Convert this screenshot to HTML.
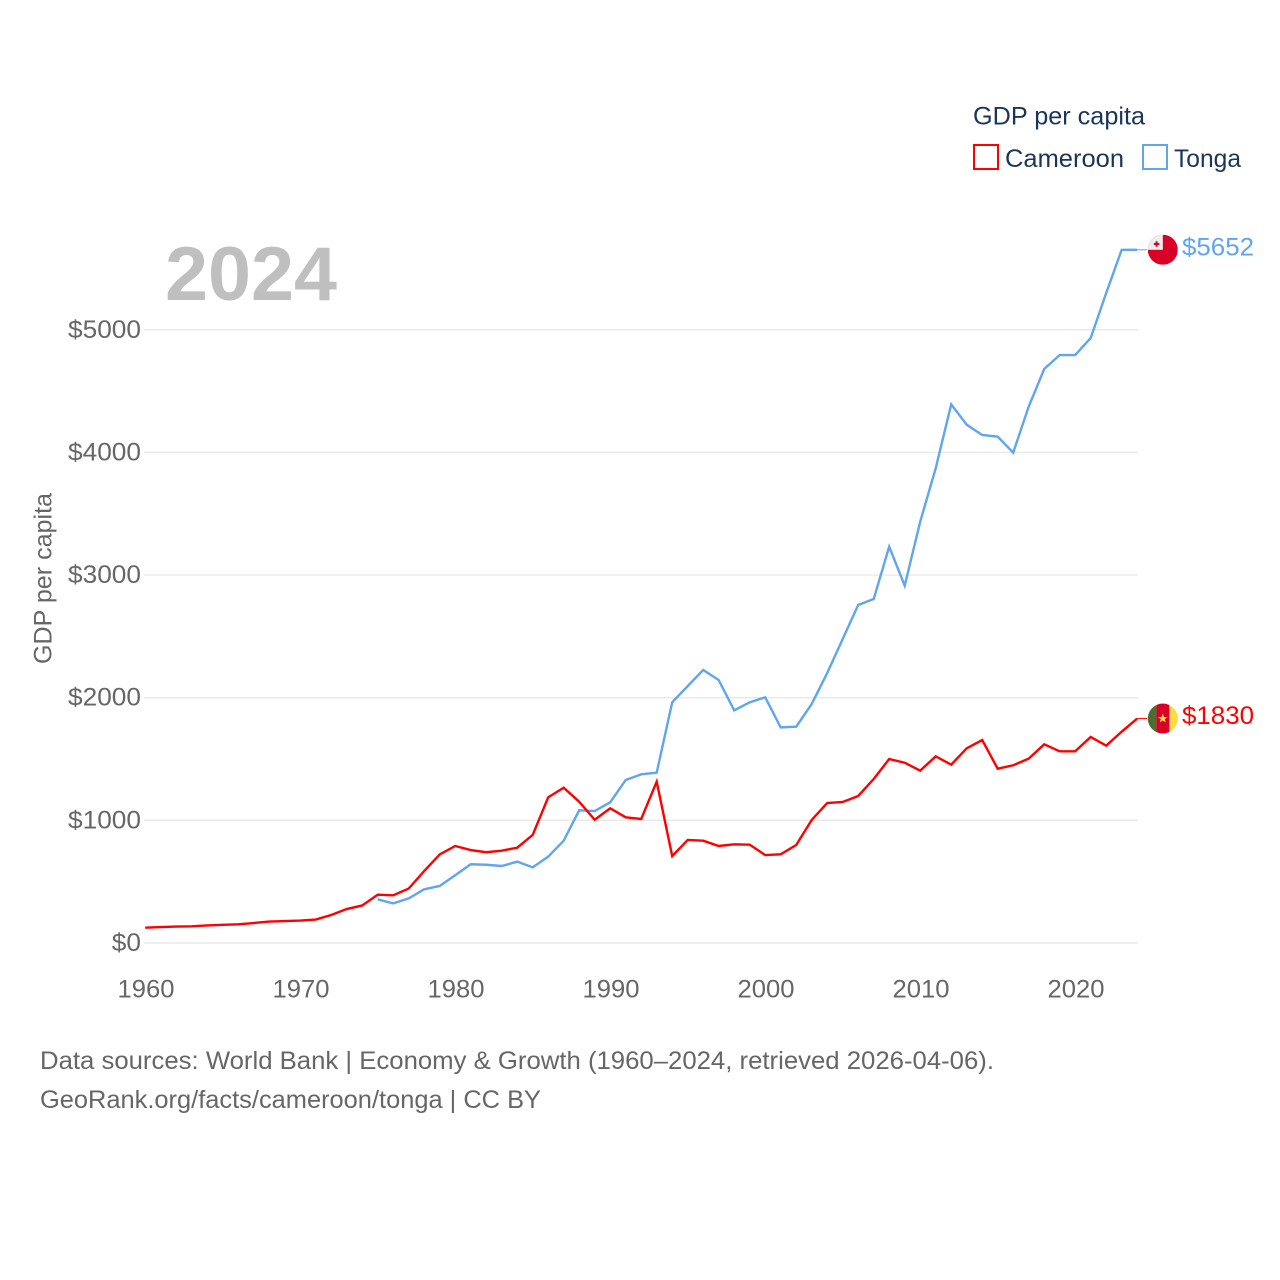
<!DOCTYPE html>
<html lang="en">
<head>
<meta charset="utf-8">
<title>GDP per capita: Cameroon and Tonga</title>
<style>
html,body{margin:0;padding:0;background:#fff}
svg{display:block}
text{font-family:"Liberation Sans",sans-serif}
</style>
</head>
<body>
<svg id="chart" xmlns="http://www.w3.org/2000/svg" width="1280" height="1280" viewBox="0 0 1280 1280">
  <rect width="1280" height="1280" fill="#fff"/>
  <g id="grid"></g>
  <g id="y-axis"></g>
  <g id="x-axis"></g>
  <text transform="translate(51.5,578.5) rotate(-90)" text-anchor="middle" font-size="25" fill="#666" textLength="171" lengthAdjust="spacingAndGlyphs">GDP per capita</text>
  <text x="165" y="300" font-size="76" font-weight="700" fill="#bfbfbf" textLength="172" lengthAdjust="spacingAndGlyphs">2024</text>
  <g id="series"></g>
  <defs>
    <clipPath id="flag-clip-tonga"><circle cx="0" cy="0" r="15"/></clipPath>
    <clipPath id="flag-clip-cameroon"><circle cx="0" cy="0" r="15"/></clipPath>
  </defs>
  <g id="flag-tonga" clip-path="url(#flag-clip-tonga)">
    <rect x="-15" y="-15" width="30" height="30" fill="#d80027"/>
    <rect x="-15" y="-15" width="15" height="15" fill="#eeeeee"/>
    <rect x="-7.2" y="-8.6" width="2" height="5.6" fill="#d80027"/>
    <rect x="-9" y="-6.8" width="5.6" height="2" fill="#d80027"/>
  </g>
  <g id="flag-cameroon" clip-path="url(#flag-clip-cameroon)">
    <rect x="-15" y="-15" width="8.6" height="30" fill="#496e2d"/>
    <rect x="-6.4" y="-15" width="13" height="30" fill="#d80027"/>
    <rect x="6.6" y="-15" width="8.4" height="30" fill="#ffda44"/>
    <polygon points="0,-5 1.3,-1.6 4.8,-1.6 2,0.6 3,4 0,2 -3,4 -2,0.6 -4.8,-1.6 -1.3,-1.6" fill="#ffda44"/>
  </g>
  <g id="end-labels"></g>
  <g>
    <text x="973" y="124.5" font-size="25" fill="#1a3557" textLength="172" lengthAdjust="spacingAndGlyphs">GDP per capita</text>
    <rect x="974" y="145" width="24" height="24" fill="#fff" stroke="#ff0000" stroke-width="2"/>
    <text x="1005" y="167" font-size="25" fill="#1a3557" textLength="119" lengthAdjust="spacingAndGlyphs">Cameroon</text>
    <rect x="1143" y="145" width="24" height="24" fill="#fff" stroke="#60a5ee" stroke-width="2"/>
    <text x="1174" y="167" font-size="25" fill="#1a3557" textLength="67" lengthAdjust="spacingAndGlyphs">Tonga</text>
  </g>
  <g>
    <text x="40" y="1069" font-size="25" fill="#666" textLength="954" lengthAdjust="spacingAndGlyphs">Data sources: World Bank | Economy &amp; Growth (1960–2024, retrieved 2026-04-06).</text>
    <text x="40" y="1108" font-size="25" fill="#666" textLength="501" lengthAdjust="spacingAndGlyphs">GeoRank.org/facts/cameroon/tonga | CC BY</text>
  </g>
</svg>
<script>
const xTickYears = [1960, 1970, 1980, 1990, 2000, 2010, 2020];
const yTickValues = [0, 1000, 2000, 3000, 4000, 5000];
const firstYear = 1960;
const tongaFirstYear = 1975;
const cameroonValues = [125, 130, 134, 136, 143, 148, 152, 163, 175, 179, 183, 191, 228, 277, 306, 394, 389, 444, 587, 722, 791, 758, 740, 753, 777, 881, 1188, 1266, 1152, 1005, 1098, 1025, 1011, 1315, 709, 840, 834, 791, 805, 802, 717, 723, 799, 1003, 1141, 1150, 1199, 1337, 1500, 1470, 1405, 1522, 1454, 1587, 1655, 1421, 1449, 1503, 1620, 1563, 1563, 1680, 1609, 1723, 1830];
const tongaValues = [356, 323, 364, 438, 465, 552, 642, 638, 628, 663, 617, 704, 834, 1082, 1076, 1147, 1329, 1375, 1389, 1962, 2095, 2226, 2144, 1897, 1962, 2003, 1758, 1764, 1949, 2201, 2479, 2756, 2805, 3231, 2913, 3435, 3870, 4392, 4226, 4142, 4128, 3998, 4373, 4680, 4794, 4794, 4933, 5300, 5652, 5652];

const NS = 'http://www.w3.org/2000/svg';
const xScale = year => 146 + (year - 1960) * 15.5;
const yScale = value => 943 - value * 0.12265;
const plotLeft = xScale(1960);
const plotRight = xScale(2024);
const markShift = -0.8;

function make(tag, attrs, parent, content) {
  const el = document.createElementNS(NS, tag);
  for (const key in attrs) el.setAttribute(key, attrs[key]);
  if (content !== undefined) el.textContent = content;
  parent.appendChild(el);
  return el;
}

const gridGroup = document.getElementById('grid');
const yAxisGroup = document.getElementById('y-axis');
const xAxisGroup = document.getElementById('x-axis');
const seriesGroup = document.getElementById('series');
const labelGroup = document.getElementById('end-labels');

yTickValues.forEach(value => {
  const y = yScale(value);
  const grid = make('line', {x1: plotLeft - 2, x2: plotRight, y1: y, y2: y, stroke: '#e9e9e9', 'stroke-width': 1.4}, gridGroup);
  
  
  const text = '$' + value;
  const label = make('text', {x: 141, y: y + 8, 'text-anchor': 'end', 'font-size': 25, fill: '#666', textLength: text.length * 14.6, lengthAdjust: 'spacingAndGlyphs'}, yAxisGroup, text);
  
  
});

xTickYears.forEach(year => {
  const label = make('text', {x: xScale(year), y: 997.5, 'text-anchor': 'middle', 'font-size': 25, fill: '#666', textLength: 57, lengthAdjust: 'spacingAndGlyphs'}, xAxisGroup, String(year));
  
  
});

function drawSeries(values, startYear, color, name) {
  const pts = values.map((v, i) => (xScale(startYear + i) + markShift).toFixed(2) + ',' + yScale(v).toFixed(2)).join(' ');
  const line = make('polyline', {points: pts, fill: 'none', stroke: color, 'stroke-width': 2.4, 'stroke-linejoin': 'miter', 'stroke-miterlimit': 4}, seriesGroup);
  
  
  const lastValue = values[values.length - 1];
  const lastY = yScale(lastValue);
  const connector = make('line', {x1: plotRight + markShift, x2: plotRight + 9, y1: lastY, y2: lastY, stroke: color, 'stroke-width': 1}, seriesGroup);
  
  
  document.getElementById('flag-' + name).setAttribute('transform', 'translate(1162.8,' + lastY + ')');
  const label = make('text', {x: 1182, y: lastY + 5.5, 'font-size': 25, fill: color, textLength: 72, lengthAdjust: 'spacingAndGlyphs'}, labelGroup, '$' + lastValue);
  
  
}

drawSeries(tongaValues, tongaFirstYear, '#60a5ee', 'tonga');
drawSeries(cameroonValues, firstYear, '#ff0000', 'cameroon');
</script>
</body>
</html>
